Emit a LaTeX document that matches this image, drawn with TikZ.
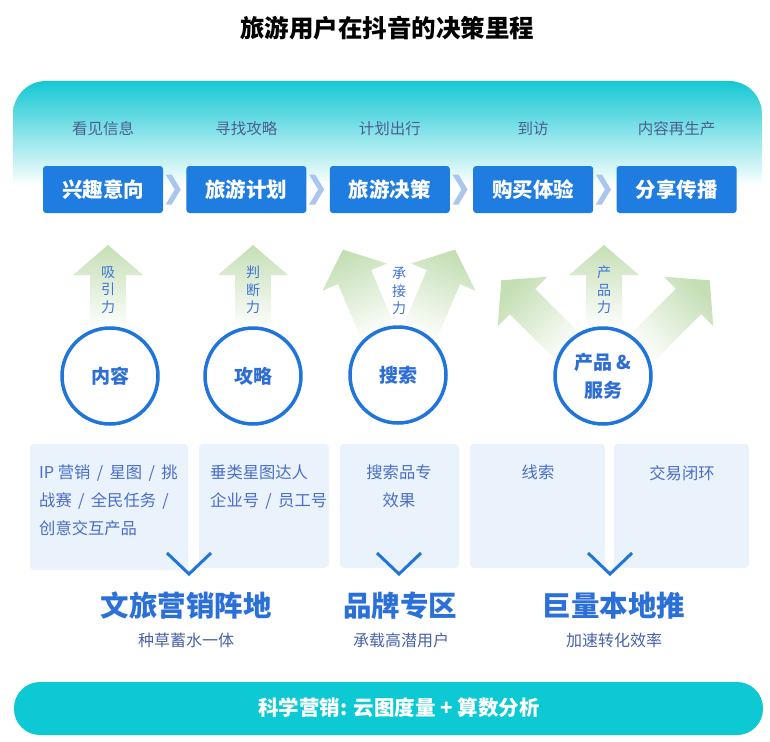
\documentclass[tikz,border=0pt]{standalone}
\usepackage{fontspec}
\setmainfont{Noto Sans CJK SC}
\usepackage{xcolor}
\usepackage{tikz}
\usetikzlibrary{calc,positioning}

\definecolor{panelteal}{HTML}{14C8D3}
\definecolor{stagegray}{HTML}{4D5F8F}
\definecolor{stepblue}{HTML}{1F7CE0}
\definecolor{chevblue}{HTML}{A8C6EE}
\definecolor{arrgreen}{HTML}{C5DFB5}
\definecolor{ringblue}{HTML}{1F75DB}
\definecolor{ringtext}{HTML}{2C6ED6}
\definecolor{arrtext}{HTML}{3F72DA}
\definecolor{boxfill}{HTML}{EAF2FC}
\definecolor{boxtext}{HTML}{4A6EC8}
\definecolor{bigblue}{HTML}{2B70D9}
\definecolor{subgray}{HTML}{4762A8}
\definecolor{barteal}{HTML}{0DC9D3}

\newcommand{\fsz}[1]{\fontsize{#1}{#1}\selectfont}
\newcommand{\slsep}{\,/\,}
% shaded green arrow: base x, base y, angle, length
\newcommand{\greenarrow}[4]{%
  \begin{scope}[shift={(#1,#2)}, rotate=#3]
    \shade[top color=arrgreen, middle color=arrgreen!70, bottom color=white, shading angle=#3]
      (-18,0) -- (-18,-#4+30) -- (-35,-#4+30) -- (0,-#4)
      -- (35,-#4+30) -- (18,-#4+30) -- (18,0) -- cycle;
  \end{scope}}

\begin{document}
\begin{tikzpicture}[x=1pt, y=-1pt,
  stage/.style={text=stagegray, font=\fsz{15.5}, inner sep=0pt},
  stepbox/.style={fill=stepblue, rounded corners=3pt, minimum width=120pt, minimum height=47pt,
    text=white, font=\bfseries\fsz{20.5}, inner sep=0pt},
  chev/.style={fill=chevblue},
  ring/.style={circle, draw=ringblue, line width=3.5pt, fill=white, minimum size=96pt,
    text=ringtext, font=\bfseries\fsz{19}, align=center, inner sep=0pt},
  vlabel/.style={text=arrtext, font=\fontsize{14}{17.5}\selectfont, align=center, inner sep=0pt},
  boxtxt/.style={text=boxtext, font=\fontsize{16.3}{28}\selectfont, inner sep=0pt},
  vmark/.style={draw=ringblue, line width=3pt},
  big/.style={text=bigblue, font=\bfseries\fsz{28.5}, inner sep=0pt},
  sub/.style={text=subgray, font=\fsz{16}, inner sep=0pt}]
  \useasboundingbox (0,0) rectangle (770,741);
  % title
  \node[font=\bfseries\fsz{24.5}, inner sep=0pt] (title) at (387,28) {旅游用户在抖音的决策里程};
  % top panel, teal fading to white
  \shade[top color=panelteal, middle color=panelteal!45, bottom color=white, rounded corners=33pt]
    (13,186) -- (13,81) -- (762,81) -- (762,186);
  % decision steps
  \node[stepbox] (b1) at (103,189.5) {兴趣意向};
  \node[stepbox, right=23pt of b1] (b2) {旅游计划};
  \node[stepbox, right=23pt of b2] (b3) {旅游决策};
  \node[stepbox, right=23pt of b3] (b4) {购买体验};
  \node[stepbox, right=23pt of b4] (b5) {分享传播};
  \node[stage] (s1) at (b1 |- 0,129) {看见信息};
  \node[stage] (s2) at (b2 |- 0,129) {寻找攻略};
  \node[stage] (s3) at (b3 |- 0,129) {计划出行};
  \node[stage] (s4) at (b4 |- 0,129) {到访};
  \node[stage] (s5) at (b5 |- 0,129) {内容再生产};
  \foreach \i [evaluate=\i as \j using int(\i+1)] in {1,...,4}
    \fill[chev, shift={($(b\i.east)!0.5!(b\j.west)$)}]
      (-9,-15) -- (-3,-15) -- (6,0) -- (-3,15) -- (-9,15) -- (0,0) -- cycle;
  % green arrows (base hidden under the rings)
  \greenarrow{108}{330}{0}{85}
  \greenarrow{253}{330}{0}{85}
  \greenarrow{380}{337}{23}{95}
  \greenarrow{418}{337}{-23}{95}
  \greenarrow{604}{330}{0}{85}
  \greenarrow{572}{351}{45}{100}
  \greenarrow{639}{351}{-45}{100}
  \node[vlabel] (l1) at (108,290) {吸\\引\\力};
  \node[vlabel] (l2) at (253,290) {判\\断\\力};
  \node[vlabel] (l3) at (399,291) {承\\接\\力};
  \node[vlabel] (l4) at (604,290) {产\\品\\力};
  % rings
  \node[ring] (content) at (110,376) {内容};
  \node[ring] (guide) at (253,376) {攻略};
  \node[ring] (search) at (398,375) {搜索};
  \node[ring] (product) at (603,376) {产品 \&\\[9pt]服务};
  % product boxes
  \fill[boxfill, rounded corners=4pt] (30,444) rectangle (188,570);
  \fill[boxfill, rounded corners=4pt] (199,444) rectangle (329,568);
  \fill[boxfill, rounded corners=4pt] (340,444) rectangle (459,568);
  \fill[boxfill, rounded corners=4pt] (470,444) rectangle (605,568);
  \fill[boxfill, rounded corners=4pt] (614,444) rectangle (749,568);
  \node[boxtxt, align=left, anchor=north west] (t1) at (39,465)
    {IP 营销 \slsep{} 星图 \slsep{} 挑\\战赛 \slsep{} 全民任务 \slsep\\创意交互产品};
  \node[boxtxt, align=left, anchor=north west] (t2) at (210,465)
    {垂类星图达人\\企业号 \slsep{} 员工号};
  \node[boxtxt, align=center, anchor=north] (t3) at (399,465) {搜索品专\\效果};
  \node[boxtxt, anchor=north] (t4) at (538,465) {线索};
  \node[boxtxt, anchor=north] (t5) at (682,465) {交易闭环};
  % down marks
  \foreach \x in {189,399,610}
    \draw[vmark] (\x-22,553) -- (\x,574) -- (\x+22,553);
  % platforms
  \node[big] (p1) at (186,606) {文旅营销阵地};
  \node[big] (p2) at (400,606) {品牌专区};
  \node[big] (p3) at (614,606) {巨量本地推};
  \node[sub] (q1) at (186,640) {种草蓄水一体};
  \node[sub] (q2) at (401,640) {承载高潜用户};
  \node[sub] (q3) at (614,640) {加速转化效率};
  % bottom bar
  \fill[barteal, rounded corners=26pt] (14,682) rectangle (763,735);
  \node[text=white, font=\bfseries\fsz{20.5}, inner sep=0pt] (bar) at (399,708)
    {科学营销: 云图度量 + 算数分析};
\end{tikzpicture}
\end{document}
